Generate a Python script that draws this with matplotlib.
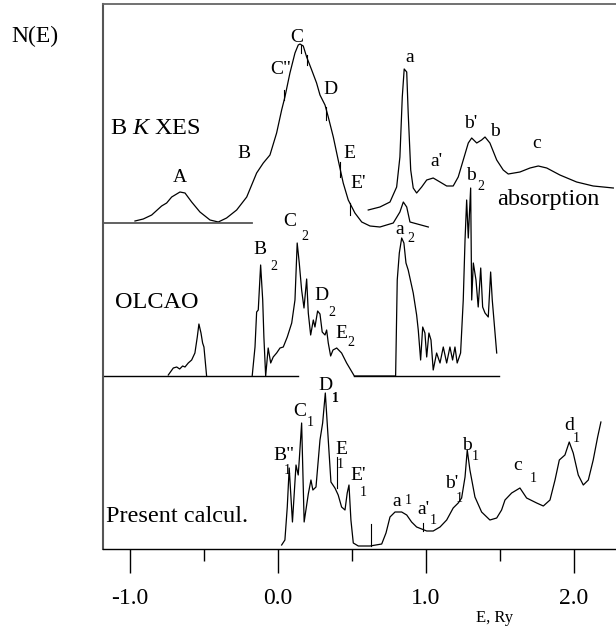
import matplotlib
matplotlib.use('Agg')
import matplotlib.pyplot as plt
import numpy as np

plt.rcParams['font.family'] = ['Liberation Serif', 'DejaVu Serif']
plt.rcParams['mathtext.fontset'] = 'custom'
plt.rcParams['mathtext.rm'] = 'Liberation Serif'
plt.rcParams['mathtext.it'] = 'Liberation Serif:italic'

# energies in Ry, intensities in arbitrary units above each panel baseline
xes_E = [-0.966, -0.910, -0.853, -0.786, -0.752, -0.718, -0.662, -0.628, -0.583, -0.527,
         -0.459, -0.403, -0.347, -0.279, -0.211, -0.144, -0.099, -0.054, -0.009, 0.025,
         0.047, 0.081, 0.115, 0.137, 0.149, 0.171, 0.194, 0.228, 0.261, 0.284,
         0.318, 0.340, 0.374, 0.407, 0.441, 0.475, 0.520, 0.566, 0.622, 0.689,
         0.779, 0.824, 0.847, 0.870, 0.892, 1.016]
xes_N = [2, 4, 8, 17, 20, 26, 31, 30, 21, 11,
         3, 1, 5, 13, 26, 50, 60, 68, 90, 113,
         126, 150, 170, 178, 179, 177, 166, 153, 140, 128,
         118, 106, 86, 63, 40, 23, 10, 1, -3, -4,
         0, 11, 21, 16, 1, -4]
# little marks drawn on the XES curve: (E, N from, N to)
xes_marks = [(0.043, 123, 133), (0.155, 170, 178), (0.194, 158, 168),
             (0.322, 103, 116), (0.419, 46, 61), (0.486, 8, 20)]

abs_E = [0.610, 0.689, 0.757, 0.802, 0.824, 0.840, 0.853, 0.870, 0.880, 0.897,
         0.914, 0.937, 0.971, 1.005, 1.049, 1.095, 1.140, 1.184, 1.218, 1.252,
         1.286, 1.309, 1.343, 1.376, 1.399, 1.432, 1.478, 1.522, 1.556, 1.635,
         1.703, 1.759, 1.816, 1.905, 2.018, 2.130, 2.266]
abs_N = [13, 16, 21, 36, 66, 126, 154, 151, 110, 53,
         35, 30, 36, 43, 45, 41, 37, 37, 46, 63,
         80, 85, 80, 83, 86, 80, 63, 53, 49, 51,
         55, 57, 55, 48, 41, 37, 35]

olcao1_E = [-0.741, -0.707, -0.684, -0.664, -0.644, -0.628, -0.606, -0.583, -0.561, -0.545,
            -0.534, -0.520, -0.509, -0.500, -0.482]
olcao1_N = [1, 8, 9, 7, 10, 9, 13, 16, 23, 39, 52, 43, 33, 29, 0]

olcao2_E = [-0.174, -0.155, -0.144, -0.133, -0.117, -0.103, -0.095, -0.083, -0.066, -0.049,
            -0.032, -0.009, 0.014, 0.036, 0.063, 0.093, 0.115, 0.130, 0.144, 0.160,
            0.176, 0.194, 0.205, 0.221, 0.239, 0.250, 0.268, 0.284, 0.299, 0.318,
            0.329, 0.340, 0.356, 0.372, 0.397, 0.430, 0.464, 0.516, 0.795, 0.806,
            0.820, 0.836, 0.851, 0.865, 0.880, 0.914, 0.937, 0.948, 0.964, 0.978,
            0.993, 1.005, 1.020, 1.034, 1.049, 1.072, 1.095, 1.117, 1.140, 1.162,
            1.180, 1.196, 1.211, 1.234, 1.252, 1.264, 1.275, 1.286, 1.302, 1.309,
            1.320, 1.338, 1.353, 1.370, 1.383, 1.399, 1.421, 1.437, 1.448, 1.478]
olcao2_N = [0, 29, 64, 66, 111, 76, 39, 0, 28, 13,
            19, 23, 28, 29, 39, 53, 76, 133, 113, 86,
            68, 97, 63, 41, 56, 49, 65, 62, 44, 41,
            46, 33, 20, 26, 28, 23, 13, 0, 0, 96,
            123, 138, 133, 113, 106, 83, 61, 46, 16, 49,
            43, 19, 43, 36, 6, 23, 13, 29, 13, 29,
            16, 29, 13, 23, 76, 136, 176, 138, 188, 76,
            113, 96, 69, 108, 69, 63, 59, 104, 76, 23]

calc_E = [0.025, 0.047, 0.063, 0.076, 0.098, 0.122, 0.137, 0.144, 0.160, 0.177,
          0.205, 0.223, 0.236, 0.257, 0.284, 0.302, 0.320, 0.340, 0.358, 0.385,
          0.407, 0.430, 0.453, 0.468, 0.480, 0.493, 0.509, 0.543, 0.622, 0.701,
          0.730, 0.757, 0.791, 0.836, 0.870, 0.903, 0.937, 1.005, 1.049, 1.095,
          1.140, 1.184, 1.218, 1.241, 1.264, 1.279, 1.297, 1.331, 1.376, 1.432,
          1.478, 1.511, 1.534, 1.579, 1.635, 1.680, 1.748, 1.793, 1.838, 1.872,
          1.901, 1.939, 1.968, 1.995, 2.029, 2.063, 2.097, 2.130, 2.160, 2.182]
calc_N = [4, 9, 42, 81, 27, 84, 74, 89, 126, 27,
          55, 69, 59, 62, 109, 126, 156, 109, 67, 61,
          54, 42, 39, 56, 64, 29, 6, 3, 3, 5,
          16, 32, 37, 37, 34, 27, 22, 18, 18, 22,
          29, 41, 46, 51, 72, 99, 79, 52, 37, 29,
          31, 39, 49, 56, 61, 51, 46, 43, 49, 69,
          89, 94, 107, 96, 74, 64, 69, 89, 112, 127]
calc_marks = [(0.397, 61, 92), (0.632, 3, 25), (0.982, 18, 26)]

top_base = 326
mid_base = 173
x_lo, x_hi = -1.182, 2.284

fig = plt.figure(figsize=(6.16, 6.32), dpi=100)
ax = fig.add_axes([103 / 616, 83 / 632, 513 / 616, 545 / 632])
ax.set_xlim(x_lo, x_hi)
ax.set_ylim(0, 545)

lw = 0.9
ax.plot(xes_E, np.array(xes_N) + top_base, color='black', lw=lw)
for e, n0, n1 in xes_marks:
    ax.plot([e, e], [top_base + n0, top_base + n1], color='black', lw=0.8)
ax.plot(abs_E, np.array(abs_N) + top_base, color='black', lw=lw)
ax.plot(olcao1_E, np.array(olcao1_N) + mid_base, color='black', lw=lw)
ax.plot(olcao2_E, np.array(olcao2_N) + mid_base, color='black', lw=lw)
ax.plot(calc_E, np.array(calc_N), color='black', lw=lw)
for e, n0, n1 in calc_marks:
    ax.plot([e, e], [n0, n1], color='black', lw=0.8)

# panel baselines
ax.plot([x_lo, -0.176], [top_base, top_base], color='#555555', lw=1.3)
ax.plot([x_lo, 0.135], [mid_base, mid_base], color='black', lw=1.0)
ax.plot([0.514, 1.493], [mid_base, mid_base], color='black', lw=1.0)

ax.spines['right'].set_visible(False)
ax.spines['left'].set_color('#555555')
ax.spines['left'].set_linewidth(1.5)
ax.spines['top'].set_color('#666666')
ax.spines['top'].set_linewidth(1.3)
ax.spines['bottom'].set_linewidth(1.0)

ax.set_yticks([])
ax.set_xticks([-1.0, 0.0, 1.0, 2.0])
ax.set_xticklabels(['-1.0', '0.0', '1.0', '2.0'])
ax.set_xticks([-0.5, 0.5, 1.5], minor=True)
ax.tick_params(axis='x', which='major', direction='out', length=17, width=1.0,
               pad=11, labelsize=17)
ax.tick_params(axis='x', which='minor', direction='out', length=8.5, width=1.0)

fs_big = 17.5
fs_pk = 14
fs_sub = 10

ax.text(-1.135, top_base + 95, 'B $K$ XES', fontsize=fs_big, ha='left', va='center')
ax.text(1.480, top_base + 23, 'absorption', fontsize=fs_big, ha='left', va='center')
ax.text(-1.101, mid_base + 73, 'OLCAO', fontsize=fs_big, ha='left', va='center')
ax.text(-1.162, 33, 'Present calcul.', fontsize=fs_big, ha='left', va='center')

# peak labels: (E, height, text, size)
peak_labels = [
    (-0.662, 371, 'A', fs_pk), (-0.230, 396, 'B', fs_pk), (0.020, 479, 'C"', fs_pk),
    (0.128, 511, 'C', fs_pk), (0.358, 459, 'D', fs_pk), (0.486, 395, 'E', fs_pk),
    (0.541, 366, "E'", fs_pk), (0.892, 492, 'a', fs_pk), (1.068, 387, "a'", fs_pk),
    (1.304, 426, "b'", fs_pk), (1.466, 418, 'b', fs_pk), (1.750, 405, 'c', fs_pk),
    (1.301, 374, 'b', fs_pk), (1.368, 363, '2', fs_sub),
    (-0.122, 300, 'B', fs_pk), (-0.030, 283, '2', fs_sub),
    (0.081, 328, 'C', fs_pk), (0.185, 313, '2', fs_sub),
    (0.297, 253, 'D', fs_pk), (0.362, 236, '2', fs_sub),
    (0.426, 216, 'E', fs_pk), (0.490, 206, '2', fs_sub),
    (0.824, 319, 'a', fs_pk), (0.895, 311, '2', fs_sub),
    (0.040, 93, 'B"', fs_pk), (0.061, 78, '1', fs_sub),
    (0.149, 137, 'C', fs_pk), (0.218, 127, '1', fs_sub),
    (0.318, 163, 'D', fs_pk), (0.388, 150, '1', fs_sub),
    (0.426, 100, 'E', fs_pk), (0.419, 84, '1', fs_sub),
    (0.541, 73, "E'", fs_pk), (0.578, 57, '1', fs_sub),
    (0.804, 47, 'a', fs_pk), (0.880, 49, '1', fs_sub),
    (0.980, 40, "a'", fs_pk), (1.050, 28, '1', fs_sub),
    (1.175, 65, "b'", fs_pk), (1.228, 50, '1', fs_sub),
    (1.277, 103, 'b', fs_pk), (1.334, 92, '1', fs_sub),
    (1.622, 84, 'c', fs_pk), (1.723, 71, '1', fs_sub),
    (1.966, 124, 'd', fs_pk), (2.016, 111, '1', fs_sub),
]
for e, h, s, size in peak_labels:
    weight = 'bold' if (s == '1' and abs(e - 0.388) < 1e-6) else 'normal'
    ax.text(e, h, s, fontsize=size, ha='center', va='center', fontweight=weight)

fig.text(35 / 616, 1 - 36 / 632, 'N(E)', fontsize=17, ha='center', va='center')
fig.text(495 / 616, 1 - 618 / 632, 'E, Ry', fontsize=12, ha='center', va='center')

fig.savefig('out.png', dpi=100)
